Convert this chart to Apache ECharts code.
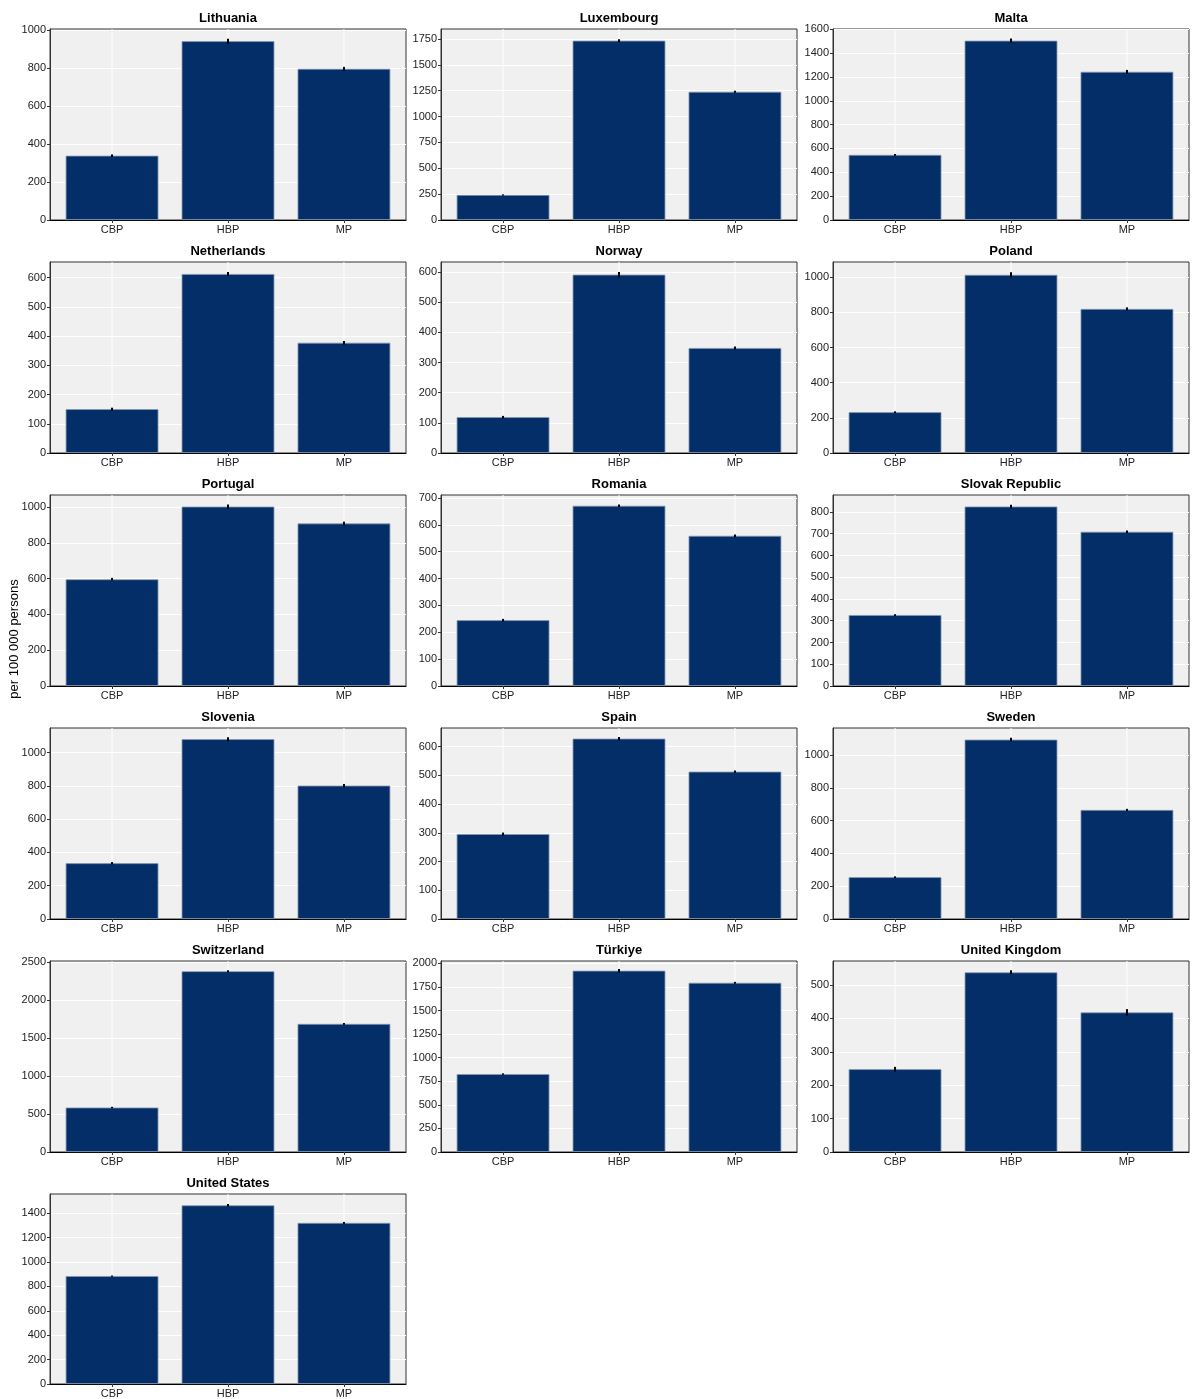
<!DOCTYPE html>
<html>
<head>
<meta charset="utf-8">
<title>per 100 000 persons</title>
<script src="https://cdn.jsdelivr.net/npm/echarts@6/dist/echarts.min.js"></script>
<style>
  html, body { margin: 0; padding: 0; background: #ffffff; }
  #chart { width: 1192px; height: 1399px; }
</style>
</head>
<body>
<div id="chart"></div>
<script>
// Panels: one per country, three bar categories each
const countries = ['Lithuania', 'Luxembourg', 'Malta', 'Netherlands', 'Norway', 'Poland',
  'Portugal', 'Romania', 'Slovak Republic', 'Slovenia', 'Spain', 'Sweden',
  'Switzerland', 'Türkiye', 'United Kingdom', 'United States'];
const categories = ['CBP', 'HBP', 'MP'];

// Rates per 100 000 persons
const cbp = [338, 242, 546, 150, 119, 232, 596, 245, 326, 335, 296, 255, 586, 826, 248, 885];
const hbp = [940, 1734, 1504, 612, 591, 1013, 1002, 671, 825, 1080, 628, 1094, 2383, 1922, 538, 1465];
const mp  = [795, 1240, 1243, 377, 348, 819, 908, 559, 709, 801, 513, 665, 1689, 1794, 418, 1321];

// Half-width of the uncertainty interval
const cbpErr = [7, 6, 8, 5, 4, 5, 8, 5, 4, 7, 5, 5, 10, 8, 7, 5];
const hbpErr = [13, 14, 18, 7, 9, 15, 12, 5, 8, 12, 6, 12, 14, 18, 6, 10];
const mpErr  = [10, 10, 16, 6, 5, 9, 10, 5, 6, 10, 4, 7, 12, 10, 10, 8];

// Y axis range top and tick step per panel
const yMax  = [1004, 1847, 1602, 653, 633, 1086, 1067, 711, 878, 1147, 665, 1165, 2518, 2025, 572, 1558];
const yStep = [200, 250, 200, 100, 100, 200, 200, 100, 100, 200, 100, 200, 500, 250, 100, 200];

const FONT = '"Liberation Sans", Arial, Helvetica, sans-serif';
const BAR_COLOR = '#032e67';
const colLeft = [50, 441, 833];
const plotW = 356;
const plotH = 191;
const rowTop = r => 29 + 233 * r;
// discrete positions 1..3 with a little padding on both sides
const X_PAD = 0.535;
const catPos = categories.map((_, k) => k + 1);

const grids = [], xAxes = [], yAxes = [], titles = [], series = [];

countries.forEach((name, i) => {
  const r = Math.floor(i / 3), c = i % 3;
  const left = colLeft[c], top = rowTop(r);
  grids.push({
    left: left, top: top, width: plotW, height: plotH,
    show: true, backgroundColor: '#f0f0f0', borderColor: '#333333', borderWidth: 1
  });
  titles.push({
    text: name, left: left + plotW / 2, top: top - 17, textAlign: 'center', padding: 0,
    textStyle: { fontFamily: FONT, fontSize: 13, fontWeight: 'bold', color: '#000' }
  });

  const ticks = [];
  for (let v = 0; v <= yMax[i]; v += yStep[i]) ticks.push(v);

  xAxes.push({
    gridIndex: i, type: 'value', min: 1 - X_PAD, max: categories.length + X_PAD,
    axisLine: { show: true, onZero: false, lineStyle: { color: '#000', width: 1 } },
    axisTick: { show: true, length: 3, lineStyle: { color: '#333' }, customValues: catPos },
    axisLabel: {
      fontFamily: FONT, fontSize: 11, color: '#222', margin: 4, customValues: catPos,
      formatter: v => categories[Math.round(v) - 1] || ''
    },
    splitLine: { show: false }
  });
  yAxes.push({
    gridIndex: i, type: 'value', min: 0, max: yMax[i], interval: yStep[i],
    axisLine: { show: true, lineStyle: { color: '#333', width: 1 } },
    axisTick: { show: true, length: 3, lineStyle: { color: '#333' }, customValues: ticks },
    axisLabel: {
      fontFamily: FONT, fontSize: 11, color: '#222', margin: 4, customValues: ticks,
      formatter: v => String(v)
    },
    splitLine: { show: true, lineStyle: { color: '#ffffff', width: 1 } }
  });

  // vertical guide lines at category centres
  series.push({
    type: 'custom', xAxisIndex: i, yAxisIndex: i, z: 1, silent: true,
    data: catPos.map(x => [x]),
    renderItem: (params, api) => {
      const p = api.coord([api.value(0), 0]);
      const cs = params.coordSys;
      return {
        type: 'line',
        shape: { x1: p[0], y1: cs.y, x2: p[0], y2: cs.y + cs.height },
        style: { stroke: '#ffffff', lineWidth: 1 }
      };
    }
  });

  const vals = [cbp[i], hbp[i], mp[i]];
  const errs = [cbpErr[i], hbpErr[i], mpErr[i]];

  series.push({
    type: 'bar', xAxisIndex: i, yAxisIndex: i, z: 2, barWidth: '80%',
    data: vals.map((v, k) => [catPos[k], v]),
    itemStyle: { color: BAR_COLOR, borderColor: '#8797b3', borderWidth: 0.8 },
    silent: true
  });

  series.push({
    type: 'custom', xAxisIndex: i, yAxisIndex: i, z: 3, silent: true,
    data: vals.map((v, k) => [catPos[k], v, errs[k]]),
    renderItem: (params, api) => {
      const hi = api.coord([api.value(0), api.value(1) + api.value(2)]);
      const lo = api.coord([api.value(0), api.value(1) - api.value(2)]);
      return {
        type: 'line',
        shape: { x1: hi[0], y1: hi[1], x2: lo[0], y2: lo[1] },
        style: { stroke: '#000000', lineWidth: 2 }
      };
    }
  });
});

const chart = echarts.init(document.getElementById('chart'), null, { renderer: 'canvas' });
chart.setOption({
  animation: false,
  backgroundColor: '#ffffff',
  title: titles,
  grid: grids,
  xAxis: xAxes,
  yAxis: yAxes,
  series: series,
  graphic: [{
    type: 'text', x: 14, y: 639, rotation: Math.PI / 2,
    style: {
      text: 'per 100 000 persons', fontFamily: FONT, fontSize: 13, fill: '#000',
      textAlign: 'center', textVerticalAlign: 'middle'
    }
  }]
});
</script>
</body>
</html>
